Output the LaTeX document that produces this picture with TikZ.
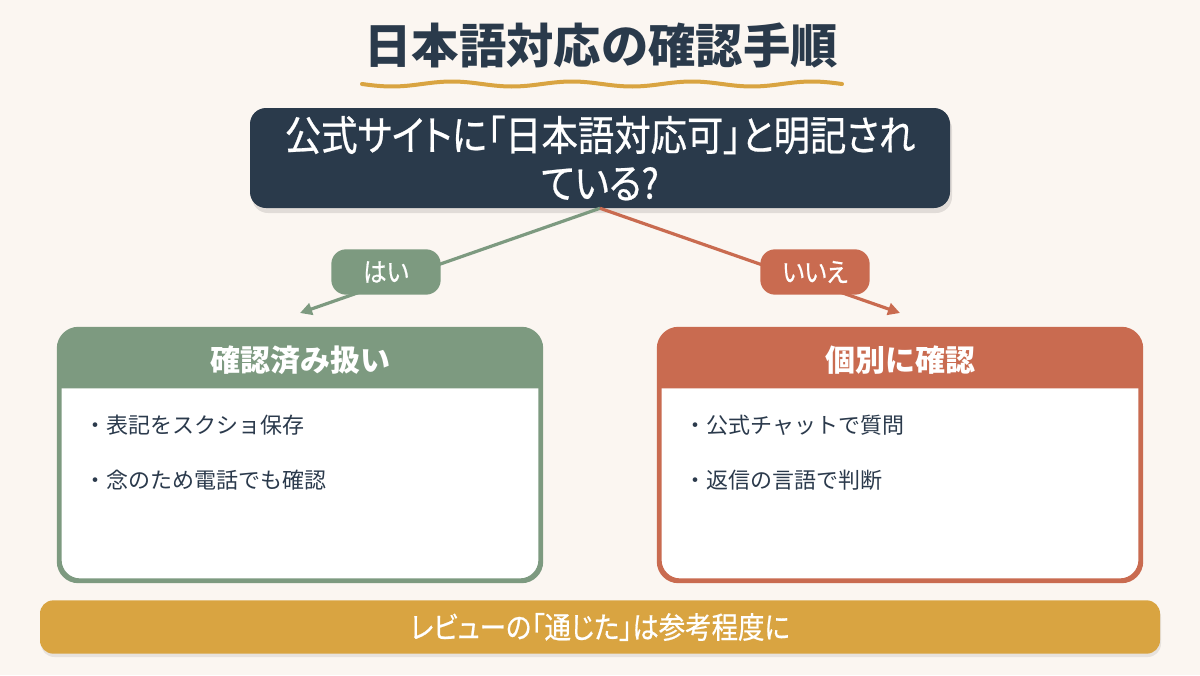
\documentclass[tikz,border=0pt]{standalone}
\usepackage{fontspec}
\setmainfont{Noto Sans CJK JP}
\newfontfamily\cond{Noto Sans CJK JP}[FakeStretch=0.88, FakeBold=0.6, RawFeature=+palt]
\usetikzlibrary{arrows.meta}
\definecolor{bgc}{HTML}{FBF6F1}
\definecolor{navy}{HTML}{2A3A4B}
\definecolor{grn}{HTML}{7D9A80}
\definecolor{rd}{HTML}{C96B50}
\definecolor{gold}{HTML}{D9A441}
\definecolor{txt}{HTML}{2B3A4C}
\tikzset{
  pill/.style={fill=#1, text=white, rounded corners=11pt, minimum width=82pt, minimum height=34pt, font=\cond\fontsize{20pt}{22pt}\selectfont},
  card/.style={draw=#1, line width=2.4pt, fill=white, rounded corners=15pt, minimum width=360pt, minimum height=187.5pt},
  cardtitle/.style={text=white, font=\bfseries\fontsize{22.5pt}{26pt}\selectfont},
  bullet/.style={text=txt, anchor=west, font=\fontsize{16.5pt}{20pt}\selectfont, inner sep=0pt},
  branch/.style={draw=#1, line width=2.4pt, -{Triangle[length=9pt,width=9pt]}},
}
\begin{document}
\begin{tikzpicture}[x=0.75pt,y=-0.75pt]
\useasboundingbox (0,0) rectangle (1200,675);
\fill[bgc] (0,0) rectangle (1200,675);
% title
\node[text=navy, font=\bfseries\fontsize{35.5pt}{40pt}\selectfont] (title) at (601,45) {日本語対応の確認手順};
\draw[gold, line width=3pt, line cap=round] plot[domain=362:842, samples=120] (\x, {84+2.5*sin((\x-362)*3)});
% question
\fill[black, opacity=0.10, rounded corners=12pt] (252,113) rectangle (952,213);
\node[fill=navy, rounded corners=12pt, minimum width=525pt, minimum height=75pt, text=white, align=center,
      font=\cond\fontsize{31pt}{36pt}\selectfont] (q) at (600,158) {公式サイトに「日本語対応可」と明記され\\ている?};
% branches
\coordinate (yArr) at (300,313);
\coordinate (nArr) at (900,313);
\draw[branch=grn] (q.south) -- (yArr);
\draw[branch=rd] (q.south) -- (nArr);
\node[pill=grn] (yes) at (386,272) {はい};
\node[pill=rd] (no) at (815,272) {いいえ};
% left card
\node[card=grn] (lc) at (300,455) {};
\fill[grn] ([yshift=-45pt]lc.north west) {[rounded corners=15pt] -- (lc.north west) -- (lc.north east)} -- ([yshift=-45pt]lc.north east) -- cycle;
\draw[grn, line width=2.4pt, rounded corners=15pt] (lc.north west) rectangle (lc.south east);
\node[cardtitle] (lt) at (300,360) {確認済み扱い};
\node[bullet] (l1) at (84,425) {・表記をスクショ保存};
\node[bullet] (l2) at (84,480) {・念のため電話でも確認};
% right card
\node[card=rd] (rc) at (900,455) {};
\fill[rd] ([yshift=-45pt]rc.north west) {[rounded corners=15pt] -- (rc.north west) -- (rc.north east)} -- ([yshift=-45pt]rc.north east) -- cycle;
\draw[rd, line width=2.4pt, rounded corners=15pt] (rc.north west) rectangle (rc.south east);
\node[cardtitle] (rt) at (900,360) {個別に確認};
\node[bullet] (r1) at (684,425) {・公式チャットで質問};
\node[bullet] (r2) at (684,480) {・返信の言語で判断};
% bottom bar
\fill[black, opacity=0.08, rounded corners=10pt] (41,604) rectangle (1161,657);
\node[fill=gold, rounded corners=10pt, minimum width=840pt, minimum height=40pt, text=white,
      font=\cond\fontsize{22.5pt}{24pt}\selectfont] (bar) at (600,627) {レビューの「通じた」は参考程度に};
\end{tikzpicture}
\end{document}
